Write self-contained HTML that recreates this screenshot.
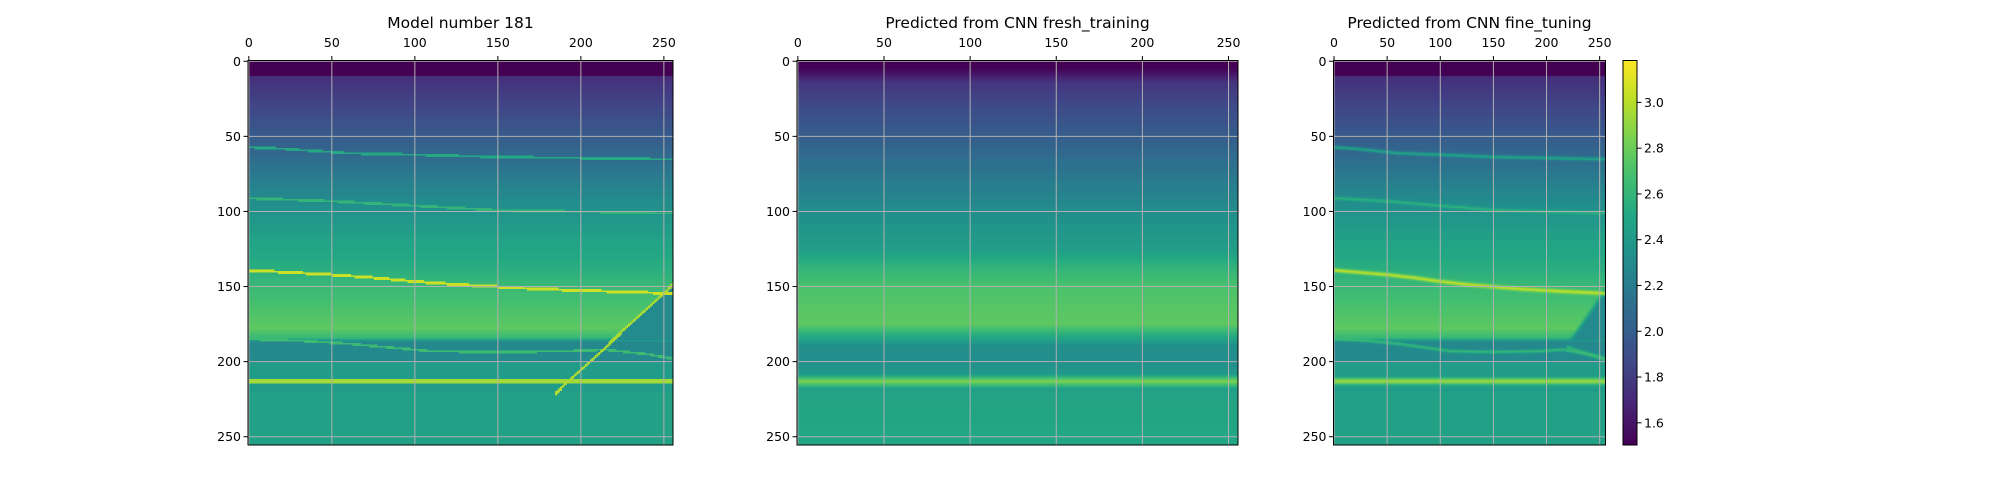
<!DOCTYPE html>
<html><head><meta charset="utf-8"><style>
html,body{margin:0;padding:0;background:#fff;width:2000px;height:500px;overflow:hidden;position:relative}
canvas{position:absolute}
svg{position:absolute;left:0;top:0}
text{font-family:"DejaVu Sans","Liberation Sans",sans-serif;fill:#000}
</style></head><body>
<canvas id="c1" width="256" height="256" style="image-rendering:pixelated"></canvas>
<canvas id="c2" width="256" height="256"></canvas>
<canvas id="c3" width="256" height="256"></canvas>
<canvas id="cb" width="1" height="256"></canvas>
<svg id="ov" width="2000" height="500"></svg>
<script>
// ---- data ----
const xTicks=[0,50,100,150,200,250];
const yTicks=[0,50,100,150,200,250];
const cbTicks=[1.6,1.8,2.0,2.2,2.4,2.6,2.8,3.0];
const vmin=1.503, vmax=3.183;
const titles=["Model number 181","Predicted from CNN fresh_training","Predicted from CNN fine_tuning"];
const prof1D=[0,9.4,9.6,30,55,80,100,120,138,150,165,178,184,187,200,201,220,221,256];
const prof1V=[1.5,1.5,1.72,1.85,2.02,2.22,2.36,2.47,2.55,2.63,2.7,2.76,2.62,2.28,2.3,2.42,2.42,2.46,2.46];
const prof2D=[0,5,14,30,50,75,100,125,138,150,165,175,182,190,200,208,213,218,225,256];
const prof2V=[1.5,1.52,1.76,1.88,2.0,2.17,2.32,2.44,2.6,2.7,2.74,2.76,2.55,2.33,2.33,2.4,2.85,2.45,2.48,2.5];
const lineAX=[0,20,40,60,100,150,256], lineAY=[57,58,59.5,61,62,63.5,65], lineAV=2.52;
const lineBX=[0,50,100,150,200,256], lineBY=[91,93,96,99,100,101], lineBV=2.6;
const lineCX=[0,25,50,75,100,125,150,175,200,256], lineCY=[139,140.5,142,144,146.5,148.5,150,151.5,152.5,154.5], lineCV=3.05;
const lineDX=[0,30,60,90,110,150,190,215,240,256], lineDY=[185,186,188,191,193,193.5,193,192,195,198], lineDV=2.65;
const lineEX=[0,256], lineEY=[213,213], lineEV=2.95;
const diagX=[185,256], diagY=[221,148], diagV=2.98;
const wedgeV=2.3;
// ---- helpers ----
function interp(xs,ys,x){if(x<=xs[0])return ys[0];for(let i=1;i<xs.length;i++){if(x<=xs[i]){const t=(x-xs[i-1])/(xs[i]-xs[i-1]);return ys[i-1]+t*(ys[i]-ys[i-1]);}}return ys[ys.length-1];}
const vir=[[68,1,84],[72,36,117],[65,68,135],[53,95,141],[42,120,142],[33,145,140],[34,168,132],[68,191,112],[122,209,81],[189,223,38],[253,231,37]];
function cmap(v){let t=(v-vmin)/(vmax-vmin);t=Math.max(0,Math.min(1,t))*10;const i=Math.min(9,Math.floor(t)),f=t-i;return vir[i].map((c,k)=>Math.round(c+f*(vir[i+1][k]-c)));}
function field(kind,x,y){
  let v;
  if(kind===2){v=interp(prof2D,prof2V,y);return v;}
  v=interp(prof1D,prof1V,y);
  const yd=interp(diagX,diagY,x);
  if(x>diagX[0]&&y>150&&y<186&&y>yd){const s=kind===1?1:Math.min(1,(y-yd)/6);v=v+(wedgeV-v)*s;}
  const lines=[[lineAX,lineAY,lineAV,1],[lineBX,lineBY,lineBV,1],[lineCX,lineCY,lineCV,1.2],[lineDX,lineDY,lineDV,1],[lineEX,lineEY,lineEV,2]];
  for(const L of lines){const lx=L[0],ly=L[1],lv=L[2],w=L[3];const d=Math.abs(y-interp(lx,ly,x));
    if(kind===1){if(d<w*0.8)v=lv;}else{const a=Math.exp(-Math.pow(d/(w*1.1),2))*0.95;v=v+(lv-v)*a;}}
  if(kind===1&&x>=diagX[0]){const d=Math.abs(y-yd);if(d<1.1)v=diagV;}
  if(kind===3&&x>218){const yb=interp([218,256],[190,199],x);const a=Math.exp(-Math.pow((y-yb)/1.4,2))*0.85;v=v+(lineDV-v)*a;}
  return v;
}
function paint(id,kind){const c=document.getElementById(id),g=c.getContext('2d'),im=g.createImageData(256,256);
  for(let y=0;y<256;y++)for(let x=0;x<256;x++){const col=cmap(field(kind,x,y)),o=(y*256+x)*4;im.data[o]=col[0];im.data[o+1]=col[1];im.data[o+2]=col[2];im.data[o+3]=255;}
  g.putImageData(im,0,0);}
paint('c1',1);paint('c2',2);paint('c3',3);
(function(){const c=document.getElementById('cb'),g=c.getContext('2d'),im=g.createImageData(1,256);
  for(let y=0;y<256;y++){const col=cmap(vmax-(y+0.5)/256*(vmax-vmin));im.data[y*4]=col[0];im.data[y*4+1]=col[1];im.data[y*4+2]=col[2];im.data[y*4+3]=255;}g.putImageData(im,0,0);})();
// ---- layout ----
const TOP=60.5,H=384.5;
const panels=[{id:'c1',l:248,w:425},{id:'c2',l:797,w:441},{id:'c3',l:1333.5,w:272}];
const cbBox={l:1623,w:14};
const NS='http://www.w3.org/2000/svg',ov=document.getElementById('ov');
function el(tag,attrs,txt){const e=document.createElementNS(NS,tag);for(const k in attrs)e.setAttribute(k,attrs[k]);if(txt!==undefined)e.textContent=txt;ov.appendChild(e);return e;}
panels.forEach((p,pi)=>{
  const c=document.getElementById(p.id);c.style.left=p.l+'px';c.style.top=TOP+'px';c.style.width=p.w+'px';c.style.height=H+'px';
  const sx=v=>p.l+(v+0.5)/256*p.w, sy=v=>TOP+(v+0.5)/256*H;
  xTicks.forEach(t=>{const x=sx(t);
    const gl=el('line',{x1:x,y1:TOP,x2:x,y2:TOP+H,stroke:'#b0b0b0','stroke-width':1});
    
    
    el('line',{x1:x,y1:TOP,x2:x,y2:TOP-4.5,stroke:'#000','stroke-width':1});
    const tl=el('text',{x:x,y:47,'font-size':12.5,'text-anchor':'middle'},String(t));
    
    });
  yTicks.forEach(t=>{const y=sy(t);
    const gl=el('line',{x1:p.l,y1:y,x2:p.l+p.w,y2:y,stroke:'#b0b0b0','stroke-width':1});
    
    
    el('line',{x1:p.l,y1:y,x2:p.l-4.5,y2:y,stroke:'#000','stroke-width':1});
    const tl=el('text',{x:p.l-7,y:y+4.5,'font-size':12.5,'text-anchor':'end'},String(t));
    
    });
  const fr=el('rect',{x:p.l,y:TOP,width:p.w,height:H,fill:'none',stroke:'#000','stroke-width':1});
  
  
  const tt=el('text',{x:p.l+p.w/2,y:28,'font-size':15.5,'text-anchor':'middle'},titles[pi]);
  
  
});
const cb=document.getElementById('cb');cb.style.left=cbBox.l+'px';cb.style.top=TOP+'px';cb.style.width=cbBox.w+'px';cb.style.height=H+'px';
el('rect',{x:cbBox.l,y:TOP,width:cbBox.w,height:H,fill:'none',stroke:'#000','stroke-width':1});
cbTicks.forEach(t=>{const y=TOP+H-(t-vmin)/(vmax-vmin)*H;
  el('line',{x1:cbBox.l+cbBox.w,y1:y,x2:cbBox.l+cbBox.w+4.5,y2:y,stroke:'#000','stroke-width':1});
  const tl=el('text',{x:cbBox.l+cbBox.w+7,y:y+4.5,'font-size':12.5},t.toFixed(1));
  
  });
</script>
</body></html>
